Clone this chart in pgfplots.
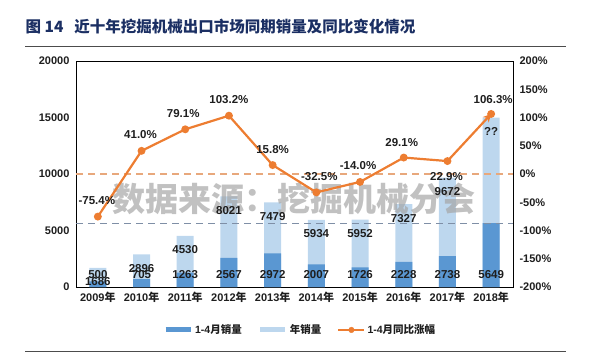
\documentclass[border=0pt]{standalone}
\usepackage{pgfplots}
\pgfplotsset{compat=1.18}
\usepackage{pgfplotstable}
\usepackage{fontspec}
\setmainfont{Liberation Sans}
\newfontfamily\cjk{Noto Sans CJK SC}
\usetikzlibrary{arrows.meta}
\definecolor{darkbar}{HTML}{5A97D2}
\definecolor{lightbar}{HTML}{BDD7EE}
\definecolor{orangeline}{HTML}{ED7D31}
\definecolor{orangedash}{HTML}{E8A87C}
\definecolor{bluedash}{HTML}{7F8FA6}
\definecolor{titleblue}{HTML}{1B2F63}
\definecolor{txt}{HTML}{1E1E1E}

\pgfplotstableread{
x total q14 lab ly
0 1686 500 1686 1100
1 2896 705 2896 1100
2 4530 1263 4530 1100
3 8021 2567 8021 1100
4 7479 2972 7479 1100
5 5934 2007 5934 1100
6 5952 1726 5952 1100
7 7327 2228 7327 1100
8 9672 2738 9672 1100
9 15000 5649 ?? 1100
}\bars

\pgfplotstableread{
x p dx dy
0 -75.4 -1 16
1 41.0 -1 16
2 79.1 -2 16
3 103.2 0 16
4 15.8 0 16
5 -32.5 3 16
6 -14.0 -2 16
7 29.1 -2 15
8 22.9 -1 -15
9 106.3 2 14
}\growth

\begin{document}
\begin{tikzpicture}[x=1pt,y=1pt]
\path[use as bounding box] (0,0) rectangle (592,362);
% title
\node[anchor=west, text=titleblue, font=\cjk\bfseries\fontsize{15.5}{18}\selectfont] at (22,335) {图 14\hspace{11pt}近十年挖掘机械出口市场同期销量及同比变化情况};
\draw[black!70, line width=0.8pt] (25,316) -- (566,316);
\draw[black!70, line width=0.8pt] (25,11) -- (566,11);

\begin{axis}[
  at={(76pt,75pt)}, anchor=south west,
  scale only axis, width=437pt, height=226pt,
  xmin=-0.5, xmax=9.5, ymin=0, ymax=20000,
  xtick={0,...,9},
  xticklabels={2009{\cjk 年},2010{\cjk 年},2011{\cjk 年},2012{\cjk 年},2013{\cjk 年},2014{\cjk 年},2015{\cjk 年},2016{\cjk 年},2017{\cjk 年},2018{\cjk 年}},
  ytick={0,5000,10000,15000,20000},
  scaled y ticks=false,
  /pgf/number format/1000 sep={},
  /pgf/number format/assume math mode=true,
  major tick length=0pt,
  axis line style={black, line width=0.9pt},
  tick label style={font=\bfseries\fontsize{11}{13}\selectfont, text=txt},
  yticklabel style={xshift=-3pt},
  xticklabel style={yshift=-2pt},
  clip=false,
]
\addplot[ybar, bar width=17pt, bar shift=0pt, fill=lightbar, draw=none] table[x=x,y=total] {\bars};
\addplot[ybar, bar width=17pt, bar shift=0pt, fill=darkbar, draw=none] table[x=x,y=q14] {\bars};
\addplot[bluedash, line width=1.3pt, dash pattern=on 7pt off 5pt] coordinates {(-0.5,5649) (9.5,5649)};
% watermark
\node[font=\cjk\bfseries\fontsize{33}{36}\selectfont, text=black!35, opacity=0.7] at (axis cs:4.5,7800) {数据来源：挖掘机械分会};
% labels
\addplot[draw=none, mark=none, nodes near coords, point meta=explicit symbolic,
  nodes near coords style={anchor=center, yshift=-14pt, font=\bfseries\fontsize{11.5}{13}\selectfont, text=txt}]
  table[x=x,y=total,meta=lab] {\bars};
\addplot[draw=none, mark=none, nodes near coords, point meta=explicit symbolic,
  nodes near coords style={anchor=center, font=\bfseries\fontsize{11.5}{13}\selectfont, text=txt}]
  table[x=x,y=ly,meta=q14] {\bars};
\end{axis}

\begin{axis}[
  at={(76pt,75pt)}, anchor=south west,
  scale only axis, width=437pt, height=226pt,
  xmin=-0.5, xmax=9.5, ymin=-200, ymax=200,
  axis x line=none, axis y line*=right,
  ytick={-200,-150,...,200},
  yticklabel={\pgfmathprintnumber{\tick}\%},
  /pgf/number format/assume math mode=true,
  major tick length=0pt,
  axis line style={black, line width=0.9pt},
  tick label style={font=\bfseries\fontsize{11}{13}\selectfont, text=txt},
  yticklabel style={xshift=3pt},
  clip=false,
  legend style={at={(0.513,-0.19)}, anchor=center, draw=none, fill=none,
    legend columns=-1, font=\bfseries\fontsize{10.5}{12}\selectfont, text=txt,
    /tikz/every even column/.append style={column sep=14pt}},
]
\addplot[orangedash, line width=1.3pt, dash pattern=on 7pt off 5pt, forget plot] coordinates {(-0.5,0) (9.5,0)};
\addplot[orangeline, line width=2.2pt, mark=*, mark size=2.8pt, mark options={solid, fill=orangeline}, -{Stealth[length=8pt,width=8pt]}, forget plot] table[x=x,y=p] {\growth};
\addplot[draw=none, mark=none, forget plot, nodes near coords={\pgfmathprintnumber[fixed,fixed zerofill,precision=1]{\pgfplotspointmeta}\%},
  point meta=y,
  visualization depends on={\thisrow{dx} \as \dx},
  visualization depends on={\thisrow{dy} \as \dy},
  nodes near coords style={anchor=center, xshift=\dx pt, yshift=\dy pt, font=\bfseries\fontsize{11.5}{13}\selectfont, text=txt}]
  table[x=x,y=p] {\growth};
\addlegendimage{legend image code/.code={\draw[darkbar, line width=5pt] (0pt,0pt) -- (25pt,0pt);}}
\addlegendentry{1-4{\cjk 月销量}}
\addlegendimage{legend image code/.code={\draw[lightbar, line width=5pt] (0pt,0pt) -- (25pt,0pt);}}
\addlegendentry{{\cjk 年销量}}
\addlegendimage{legend image code/.code={\draw[orangeline, line width=2.2pt] (0pt,0pt) -- (26pt,0pt); \fill[orangeline] (13pt,0pt) circle (2.8pt);}}
\addlegendentry{1-4{\cjk 月同比涨幅}}
\end{axis}
\end{tikzpicture}
\end{document}
